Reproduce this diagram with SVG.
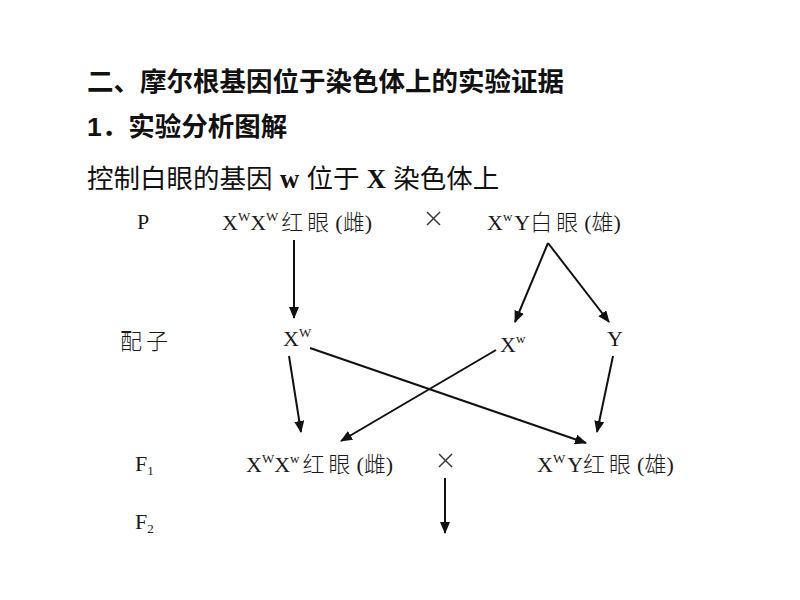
<svg xmlns="http://www.w3.org/2000/svg" width="800" height="600" viewBox="0 0 800 600">
<style>
.h{font-family:"Liberation Sans","Noto Sans CJK SC",sans-serif;font-weight:bold;font-size:26.5px;fill:#111}
.t{font-family:"Liberation Sans","Noto Sans CJK SC",sans-serif;font-size:26.5px;fill:#111}
.bs{font-family:"Liberation Serif",serif;font-weight:bold}
.d{font-family:"Liberation Serif","Noto Sans CJK SC",serif;font-size:22px;fill:#1a1a1a}
.c{font-family:"Noto Sans CJK SC",sans-serif;font-weight:300;letter-spacing:4px}
.c2{font-family:"Noto Sans CJK SC",sans-serif;font-weight:300}
.sup{font-size:13px}
.ln{stroke:#111;stroke-width:2;fill:none;marker-end:url(#ah)}
.x{stroke:#333;stroke-width:1.4}
</style>
<defs>
<marker id="ah" markerWidth="12" markerHeight="10" refX="11" refY="5" orient="auto" markerUnits="userSpaceOnUse">
<path d="M0,0 L12,5 L0,10 Z" fill="#111"/>
</marker>
</defs>
<g id="titles">
<text class="h" x="87" y="91">二、摩尔根基因位于染色体上的实验证据</text>
<text class="h" x="87" y="136">1．实验分析图解</text>
<text class="t" x="87" y="188">控制白眼的基因 <tspan class="bs">w</tspan> 位于 <tspan class="bs">X</tspan> 染色体上</text>
</g>
<g id="labels">
<text class="d" x="137" y="229">P</text>
<text class="d" x="120" y="349"><tspan class="c">配子</tspan></text>
<text class="d" x="135" y="471">F<tspan class="sup" dy="4">1</tspan></text>
<text class="d" x="135" y="529">F<tspan class="sup" dy="4">2</tspan></text>
</g>
<g id="p-female">
<text class="d" x="222" y="230">X<tspan class="sup" dy="-9">W</tspan><tspan dy="9">X</tspan><tspan class="sup" dy="-9">W</tspan><tspan dy="9" dx="3" class="c">红眼</tspan><tspan dx="2">(</tspan><tspan class="c2">雌</tspan><tspan>)</tspan></text>
</g>
<g id="p-cross">
<line class="x" x1="427" y1="212" x2="440" y2="225"/>
<line class="x" x1="440" y1="212" x2="427" y2="225"/>
</g>
<g id="p-male">
<text class="d" x="487" y="230">X<tspan class="sup" dy="-9">w</tspan><tspan dy="9" dx="2">Y</tspan><tspan class="c">白眼</tspan><tspan dx="2">(</tspan><tspan class="c2">雄</tspan><tspan>)</tspan></text>
</g>
<g id="g-XW">
<text class="d" x="283" y="346">X<tspan class="sup" dy="-9">W</tspan></text>
</g>
<g id="g-Xw">
<text class="d" x="500" y="352">X<tspan class="sup" dy="-9">w</tspan></text>
</g>
<g id="g-Y">
<text class="d" x="607" y="346">Y</text>
</g>
<g id="f1-female">
<text class="d" x="246" y="472">X<tspan class="sup" dy="-9">W</tspan><tspan dy="9">X</tspan><tspan class="sup" dy="-9">w</tspan><tspan dy="9" dx="3" class="c">红眼</tspan><tspan dx="2">(</tspan><tspan class="c2">雌</tspan><tspan>)</tspan></text>
</g>
<g id="f1-cross">
<line class="x" x1="439" y1="454" x2="452" y2="467"/>
<line class="x" x1="452" y1="454" x2="439" y2="467"/>
</g>
<g id="f1-male">
<text class="d" x="537" y="472">X<tspan class="sup" dy="-9">W</tspan><tspan dy="9" dx="2">Y</tspan><tspan class="c">红眼</tspan><tspan dx="2">(</tspan><tspan class="c2">雄</tspan><tspan>)</tspan></text>
</g>
<g id="connectors">
<line class="ln" x1="294" y1="240" x2="294" y2="318"/>
<line class="ln" x1="548" y1="243" x2="515" y2="322"/>
<line class="ln" x1="548" y1="243" x2="609" y2="322"/>
<line class="ln" x1="289" y1="356" x2="301" y2="432"/>
<line class="ln" x1="310" y1="348" x2="586" y2="443"/>
<line class="ln" x1="496" y1="350" x2="341" y2="441"/>
<line class="ln" x1="613" y1="356" x2="597" y2="432"/>
<line class="ln" x1="445" y1="478" x2="445" y2="533"/>
</g>
</svg>
